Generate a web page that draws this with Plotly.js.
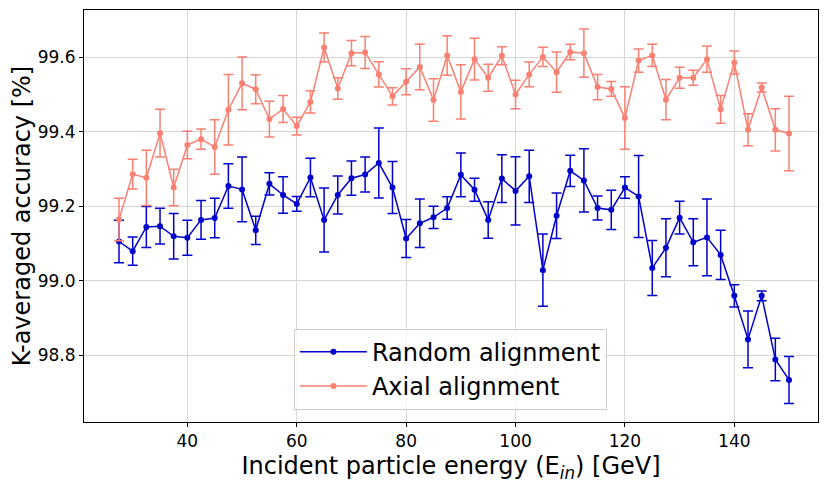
<!DOCTYPE html>
<html>
<head>
<meta charset="utf-8">
<script src="https://cdn.plot.ly/plotly-3.0.1.min.js"></script>
<style>
  html, body { margin: 0; padding: 0; background: #fff; }
  #chart { width: 830px; height: 485px; }
</style>
</head>
<body>
<div id="chart"></div>
<script>
var energy = [27.5, 30, 32.5, 35, 37.5, 40, 42.5, 45, 47.5, 50,
  52.5, 55, 57.5, 60, 62.5, 65, 67.5, 70, 72.5, 75,
  77.5, 80, 82.5, 85, 87.5, 90, 92.5, 95, 97.5, 100,
  102.5, 105, 107.5, 110, 112.5, 115, 117.5, 120, 122.5, 125,
  127.5, 130, 132.5, 135, 137.5, 140, 142.5, 145, 147.5, 150];

var randomAcc = [99.105, 99.079, 99.144, 99.146, 99.119, 99.115, 99.163, 99.168, 99.254, 99.245,
  99.135, 99.260, 99.230, 99.206, 99.277, 99.163, 99.230, 99.275, 99.285, 99.316,
  99.250, 99.113, 99.154, 99.170, 99.195, 99.284, 99.244, 99.163, 99.274, 99.241,
  99.280, 99.028, 99.174, 99.295, 99.269, 99.195, 99.190, 99.250, 99.226, 99.034,
  99.088, 99.169, 99.103, 99.116, 99.069, 98.959, 98.842, 98.959, 98.788, 98.733];
var randomErr = [0.057, 0.038, 0.055, 0.048, 0.061, 0.047, 0.052, 0.053, 0.060, 0.087,
  0.038, 0.030, 0.049, 0.020, 0.052, 0.086, 0.051, 0.046, 0.047, 0.094,
  0.070, 0.051, 0.065, 0.030, 0.030, 0.059, 0.031, 0.049, 0.064, 0.092,
  0.070, 0.097, 0.061, 0.042, 0.085, 0.032, 0.053, 0.029, 0.110, 0.074,
  0.078, 0.044, 0.063, 0.103, 0.066, 0.030, 0.076, 0.013, 0.057, 0.063];

var axialAcc = [99.164, 99.286, 99.276, 99.396, 99.250, 99.364, 99.380, 99.359, 99.459, 99.530,
  99.514, 99.434, 99.461, 99.415, 99.480, 99.626, 99.516, 99.611, 99.613, 99.554,
  99.495, 99.534, 99.574, 99.485, 99.605, 99.507, 99.595, 99.545, 99.604, 99.500,
  99.554, 99.601, 99.560, 99.614, 99.611, 99.520, 99.515, 99.437, 99.591, 99.605,
  99.486, 99.545, 99.545, 99.595, 99.460, 99.586, 99.405, 99.519, 99.405, 99.395];
var axialErr = [0.057, 0.040, 0.074, 0.064, 0.049, 0.037, 0.027, 0.073, 0.095, 0.071,
  0.039, 0.048, 0.036, 0.024, 0.030, 0.039, 0.029, 0.034, 0.043, 0.034,
  0.023, 0.035, 0.061, 0.057, 0.053, 0.073, 0.056, 0.036, 0.024, 0.038,
  0.033, 0.026, 0.054, 0.021, 0.065, 0.034, 0.020, 0.084, 0.031, 0.030,
  0.054, 0.028, 0.020, 0.035, 0.037, 0.031, 0.043, 0.012, 0.057, 0.100];

var xTicks = [40, 60, 80, 100, 120, 140];
var yTicks = [98.8, 99.0, 99.2, 99.4, 99.6];

var font = 'DejaVu Sans, sans-serif';

var traceRandom = {
  x: energy,
  y: randomAcc,
  error_y: {type: 'data', array: randomErr, visible: true, color: 'mediumblue', thickness: 1.5, width: 5},
  mode: 'lines+markers',
  name: 'Random alignment',
  line: {color: 'mediumblue', width: 1.5},
  marker: {color: 'mediumblue', size: 6},
  type: 'scatter'
};
var traceAxial = {
  x: energy,
  y: axialAcc,
  error_y: {type: 'data', array: axialErr, visible: true, color: 'salmon', thickness: 1.5, width: 5},
  mode: 'lines+markers',
  name: 'Axial alignment',
  line: {color: 'salmon', width: 1.5},
  marker: {color: 'salmon', size: 6},
  type: 'scatter'
};

var layout = {
  width: 830,
  height: 485,
  margin: {l: 84, r: 12, t: 10, b: 63},
  paper_bgcolor: '#fff',
  plot_bgcolor: '#fff',
  font: {family: font, color: '#000', size: 17},
  showlegend: true,
  legend: {
    x: 0.286, y: 0.03, xanchor: 'left', yanchor: 'bottom',
    bgcolor: 'rgba(255,255,255,0.8)', bordercolor: '#cccccc', borderwidth: 1,
    font: {family: font, size: 24, color: '#000'},
    itemwidth: 67
  },
  xaxis: {
    range: [21.1, 155.3],
    tickvals: xTicks,
    ticks: 'outside', ticklen: 4, tickcolor: '#000',
    showgrid: true, gridcolor: '#d6d6d6', gridwidth: 1,
    zeroline: false,
    showline: true, linecolor: '#000', linewidth: 1, mirror: true,
    tickfont: {family: font, size: 17},
    title: {text: 'Incident particle energy (E<sub><i>in</i></sub>) [GeV]', font: {family: font, size: 24}, standoff: 6}
  },
  yaxis: {
    range: [98.62, 99.727],
    tickvals: yTicks,
    tickformat: '.1f',
    ticks: 'outside', ticklen: 4, tickcolor: '#000',
    showgrid: true, gridcolor: '#d6d6d6', gridwidth: 1,
    zeroline: false,
    showline: true, linecolor: '#000', linewidth: 1, mirror: true,
    tickfont: {family: font, size: 17},
    title: {text: 'K-averaged accuracy [%]', font: {family: font, size: 24}, standoff: 0}
  }
};

Plotly.newPlot('chart', [traceRandom, traceAxial], layout, {displayModeBar: false});
</script>
</body>
</html>
